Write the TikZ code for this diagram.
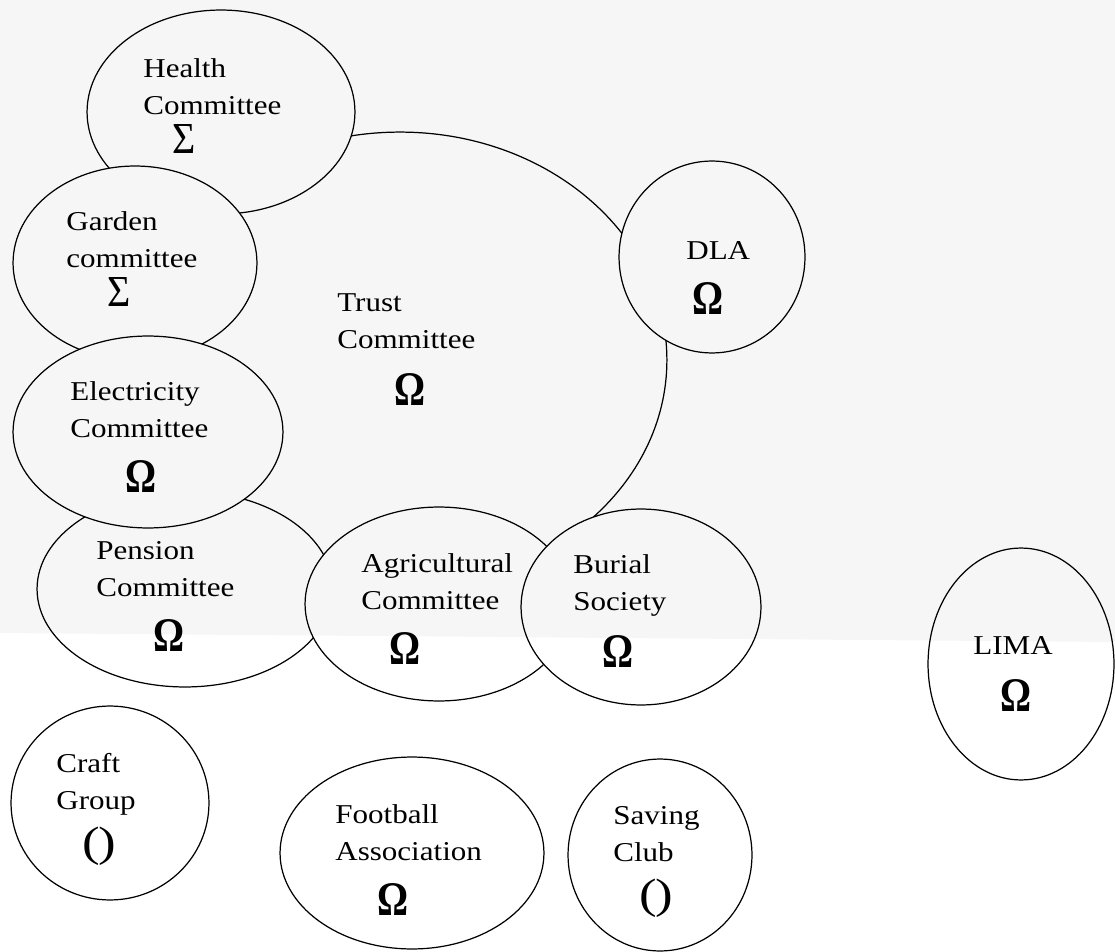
\documentclass[tikz,border=0pt]{standalone}
\usepackage{graphicx}
\usepackage{fontspec}
\setmainfont{Liberation Serif}[FakeStretch=1.14]
\usetikzlibrary{shapes.geometric}

\newlength\px \setlength\px{0.02cm}
\newcommand\omsym{\scalebox{0.88}[1.25]{\bfseries\fontsize{22}{22}\selectfont Ω}}
\newcommand\sigsym{\scalebox{0.95}[1.2]{\fontsize{21}{21}\selectfont Σ}}
\newcommand\parsym{\scalebox{1.2}[1.1]{\fontsize{22}{22}\selectfont (\kern-0.5pt)}}

\begin{document}
\begin{tikzpicture}[
  x=0.02cm, y=-0.02cm,
  org/.style={ellipse, draw, fill=white, line width=0.7pt, inner sep=0pt},
  wh/.style 2 args={minimum width=#1*0.04cm, minimum height=#2*0.04cm},
  lbl/.style={anchor=north west, align=left, inner sep=0pt,
              font=\fontsize{15.5}{21.3}\selectfont},
]

\fill[white] (0,0) rectangle (1115,952);
\useasboundingbox (0,0) rectangle (1115,952);

% groups, back to front
\node[org, wh={267}{228}] (trust) at (400,360) {};
\node[org, wh={93}{96}] (dla) at (712,257) {};
\node[org, wh={134}{102}] (health) at (221,112) {};
\node[org, wh={122}{97}] (garden) at (135,263) {};
\node[org, wh={148}{98}] (pension) at (185,589) {};
\node[org, wh={135}{96}] (elec) at (148,432) {};
\node[org, wh={134}{97}] (agri) at (439,604) {};
\node[org, wh={120}{98}] (burial) at (641,607) {};
\node[org, wh={93}{116}] (lima) at (1021,664) {};
\node[org, wh={99}{97}] (craft) at (110,803) {};
\node[org, wh={132}{96}] (football) at (412,853) {};
\node[org, wh={92}{96}] (saving) at (660,855) {};

% names and symbols
\node[lbl] (health-t) at (143,58) {Health\\Committee\\[1pt]\hspace*{29\px}\sigsym};
\node[lbl] (garden-t) at (66,211) {Garden\\committee\\[1pt]\hspace*{41\px}\sigsym};
\node[lbl] (elec-t) at (70,381) {Electricity\\Committee\\[10pt]\hspace*{55\px}\omsym};
\node[lbl] (pension-t) at (96,541) {Pension\\Committee\\[10pt]\hspace*{57\px}\omsym};
\node[lbl] (agri-t) at (361,553) {Agricultural\\Committee\\[10pt]\hspace*{28\px}\omsym};
\node[lbl] (burial-t) at (573,554) {Burial\\Society\\[10pt]\hspace*{29\px}\omsym};
\node[lbl] (trust-t) at (337,293) {Trust\\Committee\\[11pt]\hspace*{57\px}\omsym};
\node[lbl] (dla-t) at (686,241) {DLA\\[10pt]\hspace*{6\px}\omsym};
\node[lbl] (lima-t) at (973,636) {LIMA\\[11pt]\hspace*{27\px}\omsym};
\node[lbl] (craft-t) at (56,753) {Craft\\Group\\[5pt]\hspace*{26\px}\parsym};
\node[lbl] (football-t) at (335,804) {Football\\Association\\[10pt]\hspace*{42\px}\omsym};
\node[lbl] (saving-t) at (613,806) {Saving\\Club\\[5pt]\hspace*{26\px}\parsym};

% light grey cast over the upper part
\fill[black, opacity=0.035] (0,0) -- (1115,0) -- (1115,642) -- (0,633) -- cycle;

\end{tikzpicture}
\end{document}
